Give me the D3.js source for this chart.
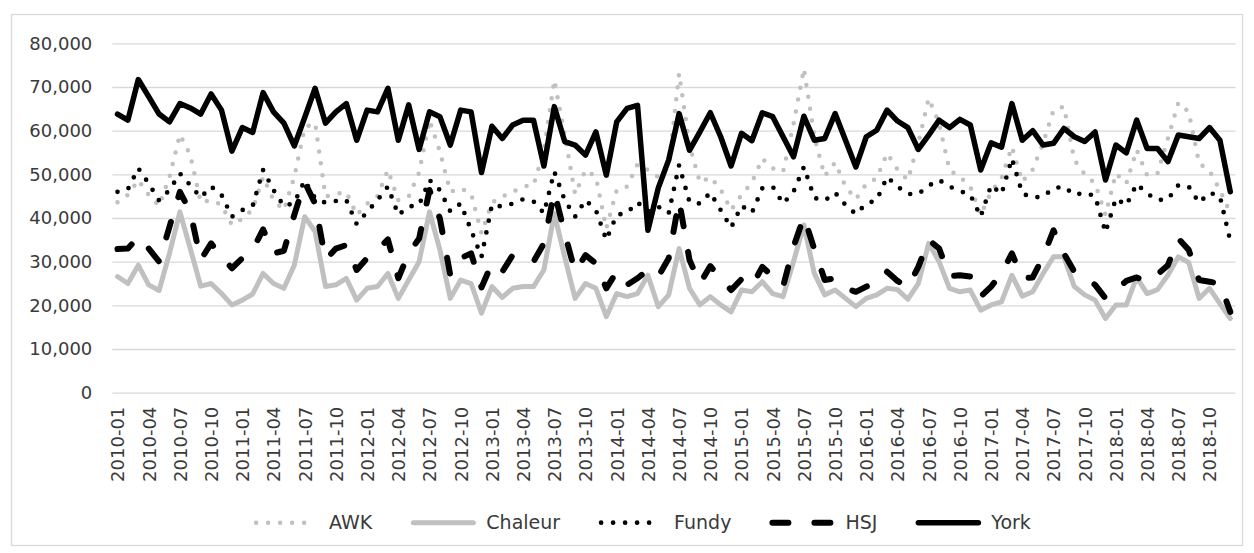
<!DOCTYPE html>
<html>
<head>
<meta charset="utf-8" />
<script type="text/javascript" src="https://cdn.jsdelivr.net/npm/d3@7"></script>
<style>
	body { margin: 0; background: #fff; }
	svg text { font-family: "DejaVu Sans", sans-serif; fill: #3a3a3a; }
</style>
</head>
<body>
<script type="text/javascript">
// months 2010-01 .. 2018-12
var years = [2010, 2011, 2012, 2013, 2014, 2015, 2016, 2017, 2018];
var months = [];
years.forEach(function(y){
	for (var m = 1; m <= 12; m++) months.push(y + "-" + (m < 10 ? "0" + m : m));
});
var yTicks = [0, 10000, 20000, 30000, 40000, 50000, 60000, 70000, 80000];

var awk = [43600,45300,48700,45300,42800,49400,59100,54400,43600,44100,43000,38400,
	39800,42000,49400,44100,41800,49400,60700,61800,44900,45500,45900,40700,
	43300,45000,51000,44100,44900,50400,62400,55200,46000,46800,45600,36500,
	43500,44900,46000,47200,47500,55500,71600,59000,45500,51000,49400,37600,
	46400,47200,52300,51000,49400,51700,73100,56700,48100,49400,46500,41800,
	45300,48100,53600,51400,50600,61500,74200,58600,49600,52700,47200,44300,
	47800,49100,54800,51100,48700,57100,67400,61700,51000,49400,47200,40700,
	46000,49100,56300,48300,51100,57100,64700,65500,53300,50000,47900,40700,
	50200,47900,55600,49800,50200,58200,66400,64300,52500,50800,46400,41100];

var chaleur = [26600,25000,29200,24700,23400,31900,41400,33000,24400,25000,22700,20100,
	21200,22600,27300,25000,23900,29200,40300,36900,24300,24700,26200,21200,
	23900,24300,27300,21600,25800,30000,41400,32700,21600,25800,25000,18200,
	24300,21800,23900,24300,24300,28100,41000,31100,21600,25000,23900,17400,
	22700,22000,22700,26900,19700,22400,33000,23900,20100,22000,20100,18500,
	23500,23100,25400,22700,22000,30000,38400,27300,22400,23500,21600,19700,
	21600,22400,23900,23600,21400,25000,34200,30000,23900,23100,23500,18900,
	20100,20800,26900,22100,23100,27300,31100,31100,24300,22400,21200,17000,
	20100,20100,26400,22700,23600,26900,31100,29800,21600,23900,20400,17000];

var fundy = [46000,46600,51400,47900,44000,46400,50200,47500,44700,47200,45300,40300,
	41800,42800,51000,46400,42700,43500,48600,44500,43500,43900,44100,38600,
	41400,44100,47200,40700,42600,43000,48700,46400,41500,43300,37200,31100,
	43000,42600,43300,44300,43800,41100,50600,44100,40300,44100,41800,35000,
	40700,41200,43600,41500,42600,41100,52100,43700,43300,45800,41800,37800,
	42800,41200,46800,47200,43300,46000,51700,44600,44000,45800,43000,40900,
	43300,44100,49400,47200,45500,45500,47400,48700,47200,46200,45300,40300,
	47500,45500,53600,45600,44700,44900,46800,47200,45300,45800,45000,36700,
	44500,42900,47800,45600,44100,44300,47500,47200,43500,45800,45000,34700];

var hsj = [32900,33000,35700,33000,30000,38000,46000,41400,30400,34200,31100,28500,
	30800,32700,37400,31900,32500,40700,48200,43300,30400,33000,33800,28100,
	30800,32700,35100,26200,31900,35300,46400,39900,26900,30800,31900,24100,
	29600,27700,31500,30400,30000,34200,46000,36500,27700,31500,29600,23900,
	27700,24700,26200,28100,26600,30800,44000,30400,25000,29000,26200,23500,
	26000,24400,28800,26600,24300,33400,40300,32900,25800,26200,23900,23100,
	24300,24900,27700,25600,24100,28800,35000,33000,26700,26900,26600,22000,
	24300,27300,31900,26200,26400,31100,37200,31900,27700,26400,24700,21600,
	23500,25600,26400,25400,27100,29200,35300,32700,25800,25400,25000,18500];

var york = [63800,62400,71700,67800,63800,62000,66200,65200,63800,68400,64700,55300,
	60700,59600,68700,64300,61700,56500,63000,69700,61700,64300,66200,57800,
	64700,64300,69700,57800,65900,55700,64300,63200,56700,64700,64300,50400,
	61000,58200,61300,62400,62400,51900,65500,57500,56700,54400,59700,49800,
	62000,65100,65800,37200,46900,53300,63900,55500,59700,64100,58600,51900,
	59400,57700,64100,63200,58600,54000,63300,57800,58200,63900,57800,51700,
	58600,60100,64700,62200,60700,55700,59000,62400,60700,62600,61300,51000,
	57200,56200,66200,57800,60000,56700,57100,60500,58600,57500,59700,48700,
	56700,54900,62400,55900,55900,52900,59000,58600,58200,60700,57800,46000];

var series = [
	{name: "AWK", values: awk, color: "#c0c0c0", width: 4.5, dash: "0,12"},
	{name: "Chaleur", values: chaleur, color: "#c0c0c0", width: 5, dash: null},
	{name: "Fundy", values: fundy, color: "#000", width: 4.7, dash: "0,12"},
	{name: "HSJ", values: hsj, color: "#000", width: 6, dash: "16,26"},
	{name: "York", values: york, color: "#000", width: 5.5, dash: null}
];

var W = 1254, H = 553;
var svg = d3.select("body").append("svg").attr("width", W).attr("height", H);

svg.append("rect")
	.attr("x", 11.5).attr("y", 14.5).attr("width", 1231).attr("height", 531)
	.attr("fill", "#fff").attr("stroke", "#d9d9d9").attr("stroke-width", 1.3);

var x = d3.scalePoint().domain(months).range([112.3, 1235.5]).padding(0.5);
var y = d3.scaleLinear().domain([0, 80000]).range([392.7, 43.3]);

// gridlines + y labels
var yAxis = d3.axisLeft(y).tickValues(yTicks).tickSize(-(1235.5 - 112.3)).tickPadding(20)
	.tickFormat(d3.format(","));
var gy = svg.append("g").attr("transform", "translate(112.3,0)").call(yAxis);
gy.select(".domain").remove();
gy.selectAll(".tick line").attr("stroke", "#d9d9d9").attr("stroke-width", 1.3);
gy.selectAll(".tick text").attr("font-size", 18).attr("fill", "#3a3a3a")
	.style("font-family", '"DejaVu Sans", sans-serif');

// x labels, every third month
var xAxis = d3.axisBottom(x).tickValues(months.filter(function(d, i){ return i % 3 === 0; }))
	.tickSize(0).tickPadding(0);
var gx = svg.append("g").attr("transform", "translate(0,392.7)").call(xAxis);
gx.select(".domain").remove();
gx.selectAll(".tick text")
	.attr("font-size", 18).attr("fill", "#3a3a3a")
	.style("font-family", '"DejaVu Sans", sans-serif')
	.attr("text-anchor", "end")
	.attr("transform", "rotate(-90)")
	.attr("x", -14).attr("y", 0).attr("dy", "0.35em");

var line = d3.line()
	.x(function(d, i){ return x(months[i]); })
	.y(function(d){ return y(d); });

svg.append("g").selectAll("path").data(series).join("path")
	.attr("d", function(s){ return line(s.values); })
	.attr("fill", "none")
	.attr("stroke", function(s){ return s.color; })
	.attr("stroke-width", function(s){ return s.width; })
	.attr("stroke-dasharray", function(s){ return s.dash; })
	.attr("stroke-linecap", "round")
	.attr("stroke-linejoin", "round");

// legend, centred under the chart
var leg = svg.append("g");
var items = leg.selectAll("g").data(series).join("g");
items.append("line")
	.attr("x1", 3).attr("x2", 63).attr("y1", 0).attr("y2", 0)
	.attr("stroke", function(s){ return s.color; })
	.attr("stroke-width", function(s){ return s.width; })
	.attr("stroke-dasharray", function(s){ return s.dash; })
	.attr("stroke-linecap", "round");
items.append("text")
	.attr("x", 76).attr("dy", "0.35em")
	.attr("font-size", 19)
	.text(function(s){ return s.name; });

var gap = 38, pos = 0;
items.each(function(){
	var g = d3.select(this);
	g.attr("transform", "translate(" + pos + ",0)");
	pos += 76 + g.select("text").node().getComputedTextLength() + gap;
});
pos -= gap;
leg.attr("transform", "translate(" + (642 - pos / 2) + ",522.7)");
</script>
</body>
</html>
